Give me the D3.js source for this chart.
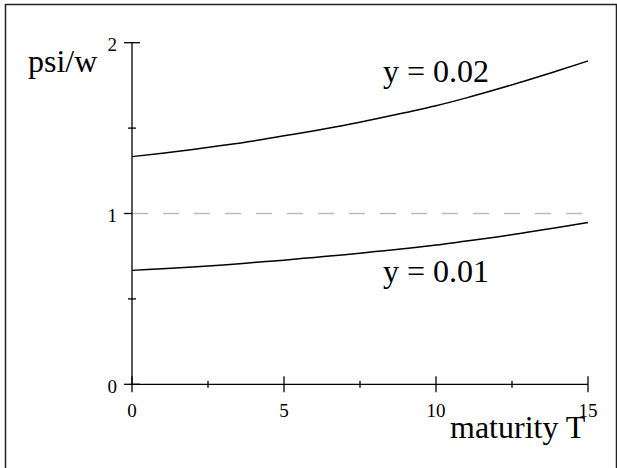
<!DOCTYPE html>
<html><head><meta charset="utf-8">
<script src="https://cdn.jsdelivr.net/npm/d3@7"></script>
<style>body{margin:0;background:#fff}svg{display:block}
text{font-family:"Liberation Serif","Times New Roman",Times,"DejaVu Serif",serif}</style>
</head><body>
<svg id="c" width="617" height="468"></svg>
<script>
const maturity = [0,1,2,3,4,5,6,7,8,9,10,11,12,13,14,15];
const psiHigh = [1.333,1.353,1.375,1.399,1.425,1.455,1.485,1.517,1.553,1.591,1.631,1.677,1.727,1.780,1.836,1.893];
const psiLow  = [0.667,0.677,0.687,0.699,0.713,0.727,0.743,0.759,0.777,0.795,0.815,0.839,0.863,0.890,0.918,0.947];
const seriesLabels = ["y = 0.02","y = 0.01"];
const xMajorTicks = [0,5,10,15];
const xMinorTicks = [2.5,7.5,12.5];
const yMajorTicks = [0,1,2];
const yMinorTicks = [0.5,1.5];
const refLevel = 1;

const svg = d3.select("#c");
const x = d3.scaleLinear().domain([0,15]).range([132,588]);
const y = d3.scaleLinear().domain([0,2]).range([384.3,42.7]);

// frame
svg.append("rect").attr("x",5.5).attr("y",4.5).attr("width",611).attr("height",470)
  .attr("fill","none").attr("stroke","#222").attr("stroke-width",1.5);

// reference dashed line
svg.append("line").attr("x1",x(0)).attr("x2",x(15)).attr("y1",y(refLevel)).attr("y2",y(refLevel))
  .attr("stroke","#bbb").attr("stroke-width",1.5).attr("stroke-dasharray","16,15");

// axes lines
const ax = svg.append("g").attr("stroke","#000").attr("stroke-width",1.3);
ax.append("line").attr("x1",x(0)).attr("x2",x(15)).attr("y1",y(0)).attr("y2",y(0));
ax.append("line").attr("x1",x(0)).attr("x2",x(0)).attr("y1",y(0)).attr("y2",y(2));
xMajorTicks.forEach(t=>ax.append("line").attr("x1",x(t)).attr("x2",x(t)).attr("y1",y(0)-8).attr("y2",y(0)+8));
xMinorTicks.forEach(t=>ax.append("line").attr("x1",x(t)).attr("x2",x(t)).attr("y1",y(0)-3.5).attr("y2",y(0)+3.5));
yMajorTicks.forEach(t=>ax.append("line").attr("x1",x(0)-8).attr("x2",t===refLevel?x(0):x(0)+8).attr("y1",y(t)).attr("y2",y(t)));
yMinorTicks.forEach(t=>ax.append("line").attr("x1",x(0)-4).attr("x2",x(0)+4).attr("y1",y(t)).attr("y2",y(t)));

// tick labels
svg.selectAll(".xl").data(xMajorTicks).enter().append("text")
  .attr("x",d=>x(d)).attr("y",416.5).attr("text-anchor","middle")
  .attr("font-size",19).text(d=>d);
svg.selectAll(".yl").data(yMajorTicks).enter().append("text")
  .attr("x",117).attr("y",d=>y(d)+8.7).attr("text-anchor","end")
  .attr("font-size",19).text(d=>d);

// curves
const line = d3.line().x((d,i)=>x(maturity[i])).y(d=>y(d)).curve(d3.curveMonotoneX);
[psiHigh, psiLow].forEach(s=>svg.append("path").attr("d",line(s))
  .attr("fill","none").attr("stroke","#000").attr("stroke-width",1.5));

// labels
const big = 32;
svg.append("text").attr("x",28).attr("y",71.7).attr("font-size",big).text("psi/w");
svg.append("text").attr("x",450).attr("y",437.7).attr("font-size",big).text("maturity T");
svg.append("text").attr("x",383).attr("y",81.7).attr("font-size",big).text(seriesLabels[0]);
svg.append("text").attr("x",383).attr("y",281.7).attr("font-size",big).text(seriesLabels[1]);
</script>
</body></html>
